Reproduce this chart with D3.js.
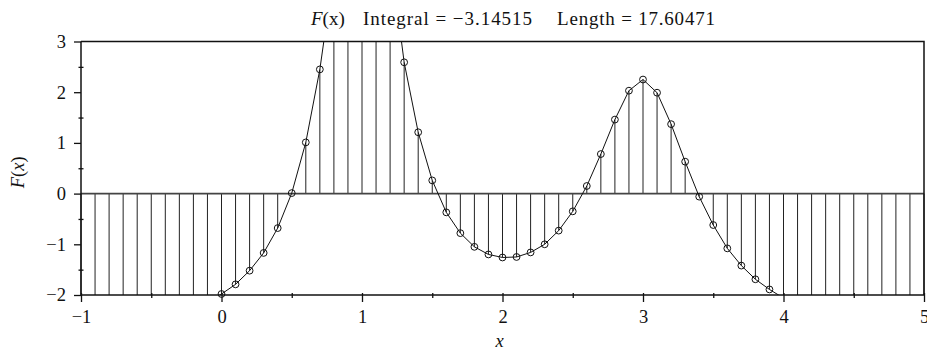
<!DOCTYPE html>
<html>
<head>
<meta charset="utf-8">
<script src="https://cdn.jsdelivr.net/npm/d3@7"></script>
<style>
  html, body { margin: 0; padding: 0; background: #fff; }
  svg { display: block; }
  text { font-family: "Liberation Serif", "Times New Roman", serif; fill: #111; }
</style>
</head>
<body>
<svg id="chart" width="927" height="350"></svg>
<script>
// Sample abscissae, step 0.1 over [-1, 5]
const xValues = [
  -1.0, -0.9, -0.8, -0.7, -0.6, -0.5, -0.4, -0.3, -0.2, -0.1,
   0.0,  0.1,  0.2,  0.3,  0.4,  0.5,  0.6,  0.7,  0.8,  0.9,
   1.0,  1.1,  1.2,  1.3,  1.4,  1.5,  1.6,  1.7,  1.8,  1.9,
   2.0,  2.1,  2.2,  2.3,  2.4,  2.5,  2.6,  2.7,  2.8,  2.9,
   3.0,  3.1,  3.2,  3.3,  3.4,  3.5,  3.6,  3.7,  3.8,  3.9,
   4.0,  4.1,  4.2,  4.3,  4.4,  4.5,  4.6,  4.7,  4.8,  4.9,
   5.0
];
// F(x) at each abscissa
const fValues = [
  -2.90, -2.87, -2.83, -2.78, -2.72, -2.64, -2.55, -2.44, -2.31, -2.16,
  -1.98, -1.79, -1.52, -1.17, -0.68,  0.01,  1.01,  2.45,  4.40,  5.60,
   6.00,  5.60,  4.75,  2.59,  1.21,  0.26, -0.37, -0.78, -1.05, -1.20,
  -1.26, -1.25, -1.16, -1.00, -0.73, -0.35,  0.15,  0.78,  1.46,  2.03,
   2.25,  1.99,  1.37,  0.63, -0.06, -0.62, -1.08, -1.42, -1.69, -1.89,
  -2.06, -2.21, -2.33, -2.43, -2.51, -2.58, -2.64, -2.69, -2.73, -2.76,
  -2.79
];
const xTicks = [-1, 0, 1, 2, 3, 4, 5];
const xMinorTicks = [-0.5, 0.5, 1.5, 2.5, 3.5, 4.5];
const yTicks = [-2, -1, 0, 1, 2, 3];
const yMinorTicks = [-1.5, -0.5, 0.5, 1.5, 2.5];
const titleParts = ["F", "(x)", "Integral = \u22123.14515", "Length = 17.60471"];

const svg = d3.select("#chart");
const plotLeft = 81, plotRight = 924, plotTop = 41.5, plotBottom = 295;

const x = d3.scaleLinear().domain([-1, 5]).range([plotLeft, plotRight]);
const y = d3.scaleLinear().domain([-2, 3]).range([plotBottom, plotTop]);

const data = xValues.map((v, i) => ({ x: v, f: fValues[i] }));
const yMin = y.domain()[0], yMax = y.domain()[1];
const clamp = v => Math.max(yMin, Math.min(yMax, v));
const fmt = d => d < 0 ? "\u2212" + Math.abs(d) : d;

svg.append("defs").append("clipPath").attr("id", "plotClip")
  .append("rect").attr("x", plotLeft).attr("y", plotTop)
  .attr("width", plotRight - plotLeft).attr("height", plotBottom - plotTop);

// Hatching: vertical strokes from zero to the (clipped) function value
svg.append("g")
  .selectAll("line")
  .data(data)
  .join("line")
  .attr("x1", d => x(d.x)).attr("x2", d => x(d.x))
  .attr("y1", y(0)).attr("y2", d => y(clamp(d.f)))
  .attr("stroke", "#222")
  .attr("stroke-width", 1);

// Zero line
svg.append("line")
  .attr("x1", plotLeft).attr("x2", plotRight)
  .attr("y1", y(0)).attr("y2", y(0))
  .attr("stroke", "#444").attr("stroke-width", 1.8);

// Function curve
svg.append("path")
  .datum(data)
  .attr("clip-path", "url(#plotClip)")
  .attr("fill", "none")
  .attr("stroke", "#111")
  .attr("stroke-width", 1)
  .attr("d", d3.line().x(d => x(d.x)).y(d => y(d.f)));

// Sample markers for values inside the visible range
svg.append("g")
  .selectAll("circle")
  .data(data.filter(d => d.f >= yMin - 0.05 && d.f <= yMax))
  .join("circle")
  .attr("cx", d => x(d.x)).attr("cy", d => y(d.f))
  .attr("r", 3.4)
  .attr("fill", "none")
  .attr("stroke", "#111")
  .attr("stroke-width", 1);

// Frame: top and right edges
svg.append("path")
  .attr("d", `M${plotLeft},${plotTop}H${plotRight}V${plotBottom}`)
  .attr("fill", "none").attr("stroke", "#111").attr("stroke-width", 1.5);

// Bottom axis (major ticks cross the line)
const xAxis = svg.append("g")
  .attr("transform", `translate(0,${plotBottom - 2})`)
  .call(d3.axisBottom(x).tickValues(xTicks).tickSize(9).tickPadding(8).tickFormat(fmt));
xAxis.select(".domain").remove();
xAxis.selectAll(".tick line").attr("stroke", "#111").attr("stroke-width", 1.3);
xAxis.selectAll(".tick text").attr("font-size", 18.5).attr("fill", "#111")
  .attr("font-family", "Liberation Serif, serif");
const xMinor = svg.append("g")
  .attr("transform", `translate(0,${plotBottom - 2})`)
  .call(d3.axisBottom(x).tickValues(xMinorTicks).tickSize(5).tickFormat(""));
xMinor.select(".domain").remove();
xMinor.selectAll(".tick line").attr("stroke", "#111").attr("stroke-width", 1.3);
svg.append("line")
  .attr("x1", plotLeft).attr("x2", plotRight).attr("y1", plotBottom).attr("y2", plotBottom)
  .attr("stroke", "#111").attr("stroke-width", 1.5);

// Left axis
const yAxis = svg.append("g")
  .attr("transform", `translate(${plotLeft},0)`)
  .call(d3.axisLeft(y).tickValues(yTicks).tickSize(7).tickPadding(8).tickFormat(fmt));
yAxis.select(".domain").remove();
yAxis.selectAll(".tick line").attr("stroke", "#111").attr("stroke-width", 1.3);
yAxis.selectAll(".tick text").attr("font-size", 18.5).attr("fill", "#111")
  .attr("font-family", "Liberation Serif, serif");
const yMinor = svg.append("g")
  .attr("transform", `translate(${plotLeft + 2.5},0)`)
  .call(d3.axisLeft(y).tickValues(yMinorTicks).tickSize(5).tickFormat(""));
yMinor.select(".domain").remove();
yMinor.selectAll(".tick line").attr("stroke", "#111").attr("stroke-width", 1.3);
svg.append("line")
  .attr("x1", plotLeft).attr("x2", plotLeft).attr("y1", plotTop).attr("y2", plotBottom)
  .attr("stroke", "#111").attr("stroke-width", 1.5);

// Title, spread to its full width
const title = svg.append("text")
  .attr("x", 311).attr("y", 25)
  .attr("font-size", 19);
title.append("tspan").attr("font-style", "italic").text(titleParts[0]);
title.append("tspan").text(titleParts[1]);
title.append("tspan").attr("x", 363).text(titleParts[2])
  .attr("textLength", 169).attr("lengthAdjust", "spacing");
title.append("tspan").attr("x", 557).text(titleParts[3])
  .attr("textLength", 158).attr("lengthAdjust", "spacing");

// Axis titles
svg.append("text")
  .attr("x", x(2) - 3).attr("y", 347)
  .attr("text-anchor", "middle")
  .attr("font-size", 18.5).attr("font-style", "italic")
  .text("x");

const yLabel = svg.append("text")
  .attr("transform", `translate(24,${(plotTop + plotBottom) / 2 + 4}) rotate(-90)`)
  .attr("text-anchor", "middle")
  .attr("font-size", 18.5);
yLabel.append("tspan").attr("font-style", "italic").text("F");
yLabel.append("tspan").text("(");
yLabel.append("tspan").attr("font-style", "italic").text("x");
yLabel.append("tspan").text(")");
</script>
</body>
</html>
